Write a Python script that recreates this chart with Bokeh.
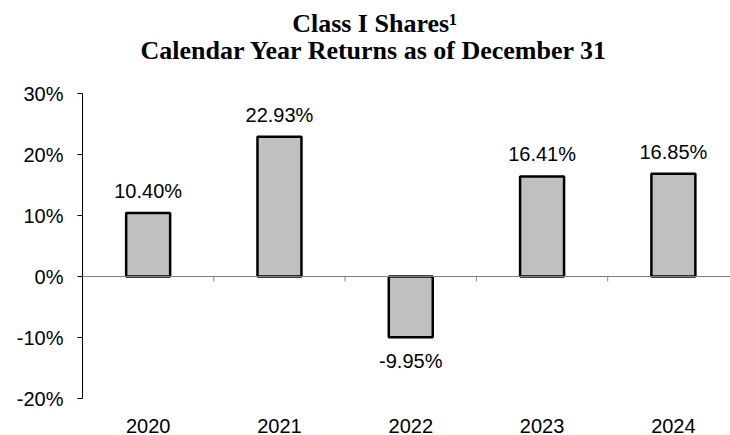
from bokeh.plotting import figure
from bokeh.models import (ColumnDataSource, Range1d, FixedTicker, PrintfTickFormatter,
                          Span, Label)
from bokeh.core.properties import value
from bokeh.embed import file_html
from bokeh.resources import INLINE

# ---- data ----
years = ["2020", "2021", "2022", "2023", "2024"]
returns = [10.40, 22.93, -9.95, 16.41, 16.85]
y_ticks = [-20, -10, 0, 10, 20, 30]
title_line1 = "Class I Shares\u00b9"
title_line2 = "Calendar Year Returns as of December 31"

n = len(years)
centers = [i + 0.5 for i in range(n)]
labels = ["%.2f%%" % v for v in returns]

pos = [i for i, v in enumerate(returns) if v >= 0]
neg = [i for i, v in enumerate(returns) if v < 0]
src_pos = ColumnDataSource(dict(x=[centers[i] for i in pos], y=[returns[i] for i in pos],
                                t=[labels[i] for i in pos]))
src_neg = ColumnDataSource(dict(x=[centers[i] for i in neg], y=[returns[i] for i in neg],
                                t=[labels[i] for i in neg]))
src_bars = ColumnDataSource(dict(x=centers, top=returns))

# layout: axis area 305px tall for the tick span, 93px of title room above it
H, BOTTOM, TOP_ROOM, AXIS_PX = 435, 37, 93, 305
px_per_unit = AXIS_PX / (y_ticks[-1] - y_ticks[0])
y_top = y_ticks[-1] + TOP_ROOM / px_per_unit

p = figure(width=730, height=H, output_backend="svg", toolbar_location=None,
           x_range=Range1d(0, 4.935), y_range=Range1d(y_ticks[0], y_top),
           min_border_left=82, min_border_right=0, min_border_top=0, min_border_bottom=BOTTOM)
p.outline_line_color = None
p.grid.visible = False
p.background_fill_color = "white"
p.border_fill_color = "white"

# bars
p.vbar(x="x", top="top", bottom=0, width=0.335, source=src_bars,
       fill_color="#c0c0c0", line_color="black", line_width=2.5)

# zero line and category boundary ticks
p.add_layout(Span(location=0, dimension="width", line_color="#808080", line_width=1))
bx = list(range(1, n))
p.segment(x0=bx, x1=bx, y0=[0] * len(bx), y1=[-0.8] * len(bx), line_color="#808080", line_width=1)

# value labels
font = value("Liberation Sans")
p.text(x="x", y="y", text="t", source=src_pos, text_font=font, text_font_size="20px",
       text_align="center", text_baseline="alphabetic", y_offset=-22, text_color="black")
p.text(x="x", y="y", text="t", source=src_neg, text_font=font, text_font_size="20px",
       text_align="center", text_baseline="alphabetic", y_offset=24, text_color="black")

# y axis
ya = p.yaxis[0]
ya.bounds = (y_ticks[0], y_ticks[-1])
ya.ticker = FixedTicker(ticks=y_ticks)
ya.formatter = PrintfTickFormatter(format="%d%%")
ya.axis_line_color = "black"
ya.major_tick_line_color = "black"
ya.major_tick_out = 5
ya.major_tick_in = 0
ya.minor_tick_line_color = None
ya.major_label_text_font = "Liberation Sans"
ya.major_label_text_font_size = "20px"
ya.major_label_text_color = "black"
ya.major_label_standoff = 14

# x axis (category labels at bottom)
xa = p.xaxis[0]
xa.ticker = FixedTicker(ticks=centers)
xa.major_label_overrides = {c: y for c, y in zip(centers, years)}
xa.axis_line_color = None
xa.major_tick_line_color = None
xa.minor_tick_line_color = None
xa.major_label_text_font = "Liberation Sans"
xa.major_label_text_font_size = "20px"
xa.major_label_text_color = "black"
xa.major_label_standoff = 14

# two-line title, placed in the room above the axis span
for txt, px_from_top in ((title_line1, 22.7), (title_line2, 50.0)):
    p.add_layout(Label(x=2.224, y=y_top - px_from_top / px_per_unit, text=txt,
                       text_font="Liberation Serif", text_font_style="bold",
                       text_font_size="26px", text_align="center",
                       text_baseline="alphabetic", text_color="black"))

open("out.html", "w").write(file_html(p, INLINE))
